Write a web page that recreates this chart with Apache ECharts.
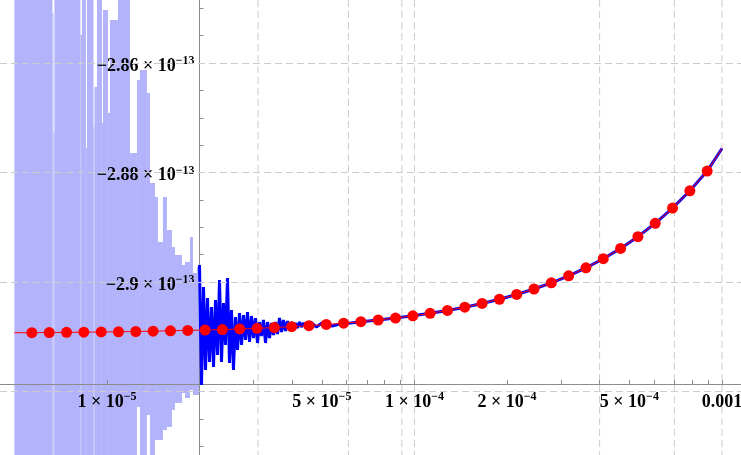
<!DOCTYPE html>
<html>
<head>
<meta charset="utf-8">
<script src="https://cdn.jsdelivr.net/npm/echarts@6/dist/echarts.min.js"></script>
<style>
html, body { margin: 0; padding: 0; background: #fff; }
#chart { width: 741px; height: 455px; }
</style>
</head>
<body>
<div id="chart"></div>
<script>
// y values are in units of 1e-13
const xMin = 4.49e-6
const xMax = 1.153e-3
const yMin = -2.9316
const yMax = -2.84849
const yAxisAtX = 2e-5
const xAxisAtY = -2.91863

const xTicks = [1e-5, 2e-5, 3e-5, 4e-5, 5e-5, 6e-5, 7e-5, 8e-5, 9e-5, 1e-4, 2e-4, 3e-4, 4e-4, 5e-4, 6e-4, 7e-4, 8e-4, 9e-4, 1e-3]
const xLabelValues = [1e-5, 5e-5, 1e-4, 2e-4, 5e-4, 1e-3]
const xLabelMant = ['1 × 10', '5 × 10', '1 × 10', '2 × 10', '5 × 10', '0.001']
const xLabelExp = ['−5', '−5', '−4', '−4', '−4', '']
const yTicks = [-2.93, -2.925, -2.92, -2.915, -2.91, -2.905, -2.9, -2.895, -2.89, -2.885, -2.88, -2.875, -2.87, -2.865, -2.86, -2.855, -2.85]
const yLabelValues = [-2.9, -2.88, -2.86]
const yLabelText = ['−2.9', '−2.88', '−2.86']
const xGrid = [3.1e-5, 6.1e-5, 9.1e-5, 1e-4, 4e-4, 7e-4, 1e-3]
const yGrid = [-2.92, -2.9, -2.88, -2.86]

// red sample points
const dotX = [5.70e-6, 6.49e-6, 7.39e-6, 8.41e-6, 9.58e-6, 1.090e-5, 1.241e-5, 1.413e-5, 1.609e-5, 1.831e-5,
  2.085e-5, 2.373e-5, 2.702e-5, 3.076e-5, 3.502e-5, 3.987e-5, 4.538e-5, 5.166e-5, 5.882e-5, 6.696e-5,
  7.622e-5, 8.677e-5, 9.879e-5, 1.1246e-4, 1.2803e-4, 1.4575e-4, 1.6592e-4, 1.889e-4, 2.150e-4, 2.448e-4,
  2.787e-4, 3.172e-4, 3.611e-4, 4.111e-4, 4.680e-4, 5.328e-4, 6.066e-4, 6.906e-4, 7.861e-4, 8.950e-4]
const dotY = [-2.90925, -2.90923, -2.90920, -2.90917, -2.90913, -2.90909, -2.90904, -2.90898, -2.90891, -2.90884,
  -2.90877, -2.90868, -2.90858, -2.90846, -2.90832, -2.90816, -2.90798, -2.90776, -2.90752, -2.90725,
  -2.90694, -2.90658, -2.90618, -2.90572, -2.90520, -2.90460, -2.90392, -2.90315, -2.90228, -2.90128,
  -2.90015, -2.89887, -2.89741, -2.89575, -2.89386, -2.89172, -2.88928, -2.88650, -2.88334, -2.87974]
const redStart = [5.0e-6, -2.90927]
const redEnd = [1e-3, -2.87562]

// noisy part of the blue curve
const noiseX = [2.000e-5, 2.030e-5, 2.061e-5, 2.092e-5, 2.123e-5, 2.155e-5, 2.188e-5, 2.221e-5, 2.254e-5, 2.288e-5,
  2.323e-5, 2.358e-5, 2.393e-5, 2.429e-5, 2.466e-5, 2.503e-5, 2.541e-5, 2.579e-5, 2.618e-5, 2.658e-5,
  2.698e-5, 2.739e-5, 2.780e-5, 2.822e-5, 2.865e-5, 2.908e-5, 2.952e-5, 2.996e-5, 3.041e-5, 3.087e-5,
  3.134e-5, 3.181e-5, 3.229e-5, 3.278e-5, 3.327e-5, 3.377e-5, 3.428e-5, 3.480e-5, 3.532e-5, 3.586e-5,
  3.640e-5, 3.695e-5, 3.750e-5, 3.807e-5, 3.864e-5, 3.923e-5, 3.982e-5, 4.042e-5, 4.103e-5, 4.165e-5,
  4.228e-5, 4.292e-5, 4.356e-5, 4.422e-5, 4.6e-5, 4.8e-5, 5.0e-5, 5.4e-5, 5.8e-5, 6.2e-5]
const noiseY = [-2.89690, -2.91881, -2.90091, -2.91607, -2.90292, -2.91461, -2.90457, -2.91553, -2.90329, -2.91333,
  -2.89963, -2.91461, -2.90384, -2.91151, -2.89927, -2.91479, -2.90511, -2.91607, -2.90639, -2.91242,
  -2.90566, -2.91151, -2.90603, -2.91059, -2.90548, -2.91096, -2.90621, -2.91023, -2.90658, -2.91114,
  -2.90731, -2.90986, -2.90694, -2.91114, -2.90731, -2.91023, -2.90749, -2.90968, -2.90731, -2.90950,
  -2.90658, -2.90913, -2.90694, -2.90895, -2.90712, -2.90877, -2.90731, -2.90858, -2.90749, -2.90840,
  -2.90731, -2.90822, -2.90749, -2.90804, -2.90731, -2.90822, -2.90749, -2.90804, -2.90758, -2.90749]
const smoothFrom = 19

// light blue noisy region, as column ranges between edges
const lbEdges = [5.0e-6, 6.649e-6, 6.699e-6, 6.749e-6, 8.200e-6, 8.293e-6, 8.545e-6, 8.610e-6, 9.040e-6, 9.108e-6,
  9.280e-6, 9.633e-6, 9.705e-6, 1.0075e-5, 1.0227e-5, 1.0859e-5, 1.188e-5, 1.252e-5, 1.280e-5, 1.349e-5,
  1.380e-5, 1.433e-5, 1.465e-5, 1.521e-5, 1.567e-5, 1.627e-5, 1.664e-5, 1.754e-5, 1.794e-5, 1.862e-5,
  1.904e-5, 1.962e-5, 2.0e-5]
const lbHigh = [-2.84, -2.85087, -2.87260, -2.84, -2.85489, -2.84, -2.87553, -2.84, -2.87169, -2.86438,
  -2.84, -2.87096, -2.85032, -2.86913, -2.85215, -2.84, -2.87644, -2.86311, -2.86128, -2.86548,
  -2.88192, -2.88447, -2.89269, -2.88447, -2.89050, -2.89361, -2.89507, -2.89689, -2.89635, -2.89178,
  -2.89836, -2.89726]
const lbLow = [-2.94, -2.94, -2.94, -2.94, -2.94, -2.94, -2.94, -2.94, -2.94, -2.94,
  -2.94, -2.94, -2.94, -2.94, -2.94, -2.94, -2.94, -2.92283, -2.94, -2.92429,
  -2.94, -2.92886, -2.92886, -2.92703, -2.92648, -2.92338, -2.92210, -2.92027, -2.92119, -2.91973,
  -2.92064, -2.92064]

const font = 'Liberation Serif'
const rich = {
  m: { fontFamily: font, fontSize: 18, fontWeight: 'bold', color: '#000', lineHeight: 22 },
  s: { fontFamily: font, fontSize: 12, fontWeight: 'bold', color: '#000', lineHeight: 12, verticalAlign: 'top' }
}
const axisGray = '#8c8c8c'
const gridStyle = { color: '#cccccc', type: [7, 4], width: 1 }

const dots = dotX.map((x, i) => [x, dotY[i]])
const redLine = [redStart, ...dots, redEnd]
const blueLine = [...noiseX.map((x, i) => [x, noiseY[i]]), ...dots.slice(smoothFrom), redEnd]
const lbData = lbHigh.map((h, i) => [lbEdges[i], lbEdges[i + 1], h, lbLow[i]])

const chart = echarts.init(document.getElementById('chart'))
chart.setOption({
  animation: false,
  backgroundColor: '#fff',
  grid: [
    { left: 0, right: 0, top: 0, bottom: 0, outerBoundsMode: 'none' },
    { left: 0, right: 0, top: 0, bottom: 0, outerBoundsMode: 'none' },
    { left: 0, right: 0, top: 0, height: 455, outerBoundsMode: 'none' }
  ],
  xAxis: [
    { gridIndex: 0, type: 'log', logBase: 10, min: xMin, max: xMax, show: false },
    { gridIndex: 1, type: 'value', show: false },
    {
      gridIndex: 2,
      type: 'value',
      min: Math.log10(xMin),
      max: Math.log10(xMax),
      position: 'bottom',
      z: 3,
      axisLine: { show: true, lineStyle: { color: axisGray, width: 1 } },
      axisTick: { show: true, inside: true, length: 4, lineStyle: { color: axisGray }, customValues: xTicks.map(Math.log10) },
      axisLabel: {
        show: true,
        margin: 7,
        hideOverlap: false,
        customValues: xLabelValues.map(Math.log10),
        rich,
        formatter: v => {
          const i = xLabelValues.findIndex(t => Math.abs(Math.log10(t) - v) < 1e-9)
          if (i < 0) return ''
          return xLabelExp[i] ? `{m|${xLabelMant[i]}}{s|${xLabelExp[i]}}` : `{m|${xLabelMant[i]}}`
        }
      },
      splitLine: { show: false }
    }
  ],
  yAxis: [
    { gridIndex: 0, type: 'value', min: yMin, max: yMax, show: false },
    {
      gridIndex: 1,
      type: 'value',
      min: yMin,
      max: yMax,
      position: 'left',
      z: 3,
      axisLine: { show: true, lineStyle: { color: axisGray, width: 1 } },
      axisTick: { show: true, inside: true, length: 4, lineStyle: { color: axisGray }, customValues: yTicks },
      axisLabel: {
        show: true,
        margin: 5,
        hideOverlap: false,
        padding: [6, 0, 0, 0],
        customValues: yLabelValues,
        rich,
        formatter: v => {
          const i = yLabelValues.findIndex(t => Math.abs(t - v) < 1e-9)
          return i < 0 ? '' : `{m|${yLabelText[i]} × 10}{s|−13}`
        }
      },
      splitLine: { show: false }
    },
    { gridIndex: 2, type: 'value', show: false }
  ],
  series: [
    {
      name: 'hgrid',
      type: 'line',
      xAxisIndex: 0,
      yAxisIndex: 0,
      data: [],
      z: 1,
      markLine: {
        silent: true,
        symbol: 'none',
        label: { show: false },
        lineStyle: gridStyle,
        data: yGrid.map(v => ({ yAxis: v }))
      }
    },
    {
      name: 'vgrid',
      type: 'custom',
      xAxisIndex: 0,
      yAxisIndex: 0,
      z: 1,
      silent: true,
      encode: { x: 0, y: 1 },
      data: xGrid.map(v => [v, yMin]),
      renderItem: (params, api) => {
        const a = api.coord([api.value(0), yMax])
        const b = api.coord([api.value(0), yMin])
        return {
          type: 'line',
          shape: { x1: a[0], y1: a[1], x2: b[0], y2: b[1] },
          style: { stroke: gridStyle.color, lineWidth: 1, lineDash: gridStyle.type }
        }
      }
    },
    {
      name: 'noise',
      type: 'custom',
      xAxisIndex: 0,
      yAxisIndex: 0,
      z: 2,
      clip: true,
      encode: { x: [0, 1], y: [2, 3] },
      data: lbData,
      renderItem: (params, api) => {
        const a = api.coord([api.value(0), api.value(2)])
        const b = api.coord([api.value(1), api.value(3)])
        return {
          type: 'rect',
          shape: { x: a[0], y: a[1], width: b[0] - a[0], height: b[1] - a[1] },
          style: { fill: '#b3b3fb' }
        }
      }
    },
    {
      name: 'blue',
      type: 'line',
      xAxisIndex: 0,
      yAxisIndex: 0,
      z: 4,
      data: blueLine,
      showSymbol: false,
      symbol: 'none',
      lineStyle: { color: '#0000ff', width: 3 }
    },
    {
      name: 'red',
      type: 'line',
      xAxisIndex: 0,
      yAxisIndex: 0,
      z: 5,
      data: redLine,
      symbol: 'none',
      lineStyle: { color: '#ff0000', width: 1 }
    },
    {
      name: 'dots',
      type: 'scatter',
      xAxisIndex: 0,
      yAxisIndex: 0,
      z: 6,
      data: dots,
      symbol: 'circle',
      symbolSize: 11,
      itemStyle: { color: '#ff0000', opacity: 1 }
    }
  ]
})

const cross = chart.convertToPixel({ gridIndex: 0 }, [yAxisAtX, xAxisAtY])
chart.setOption({ grid: [{}, { left: cross[0] }, { height: cross[1] }] })
</script>
</body>
</html>
